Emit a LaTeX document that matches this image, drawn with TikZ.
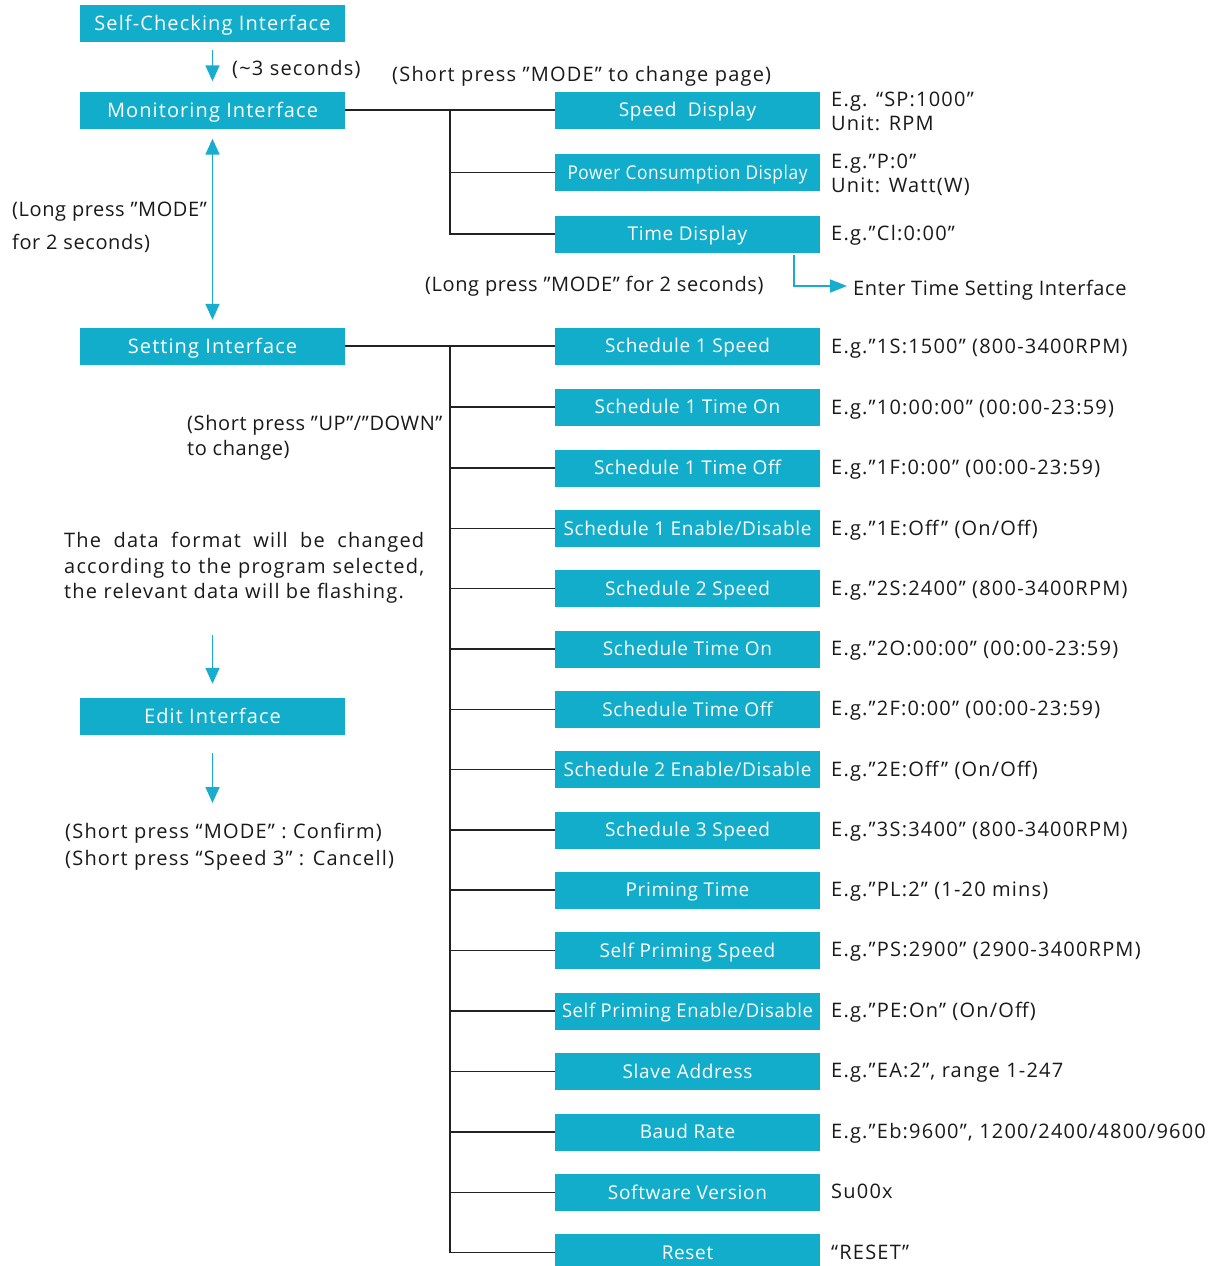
\documentclass[tikz,border=0pt]{standalone}
\usepackage{fontspec}
\usepackage{graphicx}
\usetikzlibrary{arrows.meta}
\newfontfamily\lboxfam[LetterSpace=5.5]{Open Sans}
\newfontfamily\rboxfam[LetterSpace=3.5]{Open Sans}
\newfontfamily\labfam[LetterSpace=6]{Open Sans}
\newfontfamily\labnfam[LetterSpace=3]{Open Sans}
\newcommand{\lboxfont}{\lboxfam\fontsize{20}{24}\selectfont}
\newcommand{\rboxfont}{\rboxfam\fontsize{19}{23}\selectfont}
\newcommand{\labfont}{\labfam\fontsize{20}{25}\selectfont}
\newcommand{\labnfont}{\labnfam\fontsize{20}{25}\selectfont}
\newcommand{\fitw}[2]{\resizebox{#1}{\height}{#2}}
\definecolor{boxc}{HTML}{12ADCB}
\definecolor{arrc}{HTML}{18ADCE}
\definecolor{linec}{HTML}{222222}
\definecolor{txt}{HTML}{1A1A1A}
\tikzset{
  lbox/.style={rectangle, fill=boxc, minimum width=265pt, minimum height=37pt, inner sep=0pt, text=white, font=\lboxfont, text height=14.3pt, text depth=0pt},
  rbox/.style={rectangle, fill=boxc, minimum width=265pt, minimum height=37pt, inner sep=0pt, text=white, font=\rboxfont, text height=13.6pt, text depth=0pt},
  lab/.style={anchor=base west, inner sep=0pt, font=\labfont, text=txt},
  labn/.style={lab, font=\labnfont},
  conn/.style={line width=1.8pt, draw=linec},
  carrow/.style={line width=1.7pt, draw=arrc, -{Triangle[width=14pt,length=16pt]}},
  cdarrow/.style={line width=1.7pt, draw=arrc, {Triangle[width=14pt,length=16pt]}-{Triangle[width=14pt,length=16pt]}},
  csarrow/.style={line width=1.7pt, draw=arrc, -{Triangle[width=13pt,length=17pt]}},
}
\begin{document}
\begin{tikzpicture}[x={(1pt,0pt)}, y={(0pt,-1pt)}]
\useasboundingbox (0,0) rectangle (1217,1266);
\fill[white] (0,0) rectangle (1217,1266);

% left column boxes
\node[lbox] (sc) at (212.5,23.5) {Self-Checking Interface};
\node[lbox] (mon) at (212.5,110) {Monitoring Interface};
\node[lbox] (set) at (212.5,346) {Setting Interface};
\node[lbox] (edit) at (212.5,716.5) {Edit Interface};

% display boxes
\node[rbox] (r1) at (687.5,110) {Speed\ \ Display};
\node[rbox] (r2) at (687.5,172.5) {\fitw{240pt}{Power Consumption Display}};
\node[rbox] (r3) at (687.5,234) {Time Display};

% setting boxes
\node[rbox] (s1) at (687.5,346) {Schedule 1 Speed};
\node[rbox] (s2) at (687.5,407) {Schedule 1 Time On};
\node[rbox] (s3) at (687.5,468) {Schedule 1 Time Off};
\node[rbox] (s4) at (687.5,528.5) {\fitw{248pt}{Schedule 1 Enable/Disable}};
\node[rbox] (s5) at (687.5,588.5) {Schedule 2 Speed};
\node[rbox] (s6) at (687.5,649) {Schedule Time On};
\node[rbox] (s7) at (687.5,709.5) {Schedule Time Off};
\node[rbox] (s8) at (687.5,769.5) {\fitw{248pt}{Schedule 2 Enable/Disable}};
\node[rbox] (s9) at (687.5,830) {Schedule 3 Speed};
\node[rbox] (s10) at (687.5,890) {Priming Time};
\node[rbox] (s11) at (687.5,950.5) {Self Priming Speed};
\node[rbox] (s12) at (687.5,1011) {\fitw{251pt}{Self Priming Enable/Disable}};
\node[rbox] (s13) at (687.5,1071.5) {Slave Address};
\node[rbox] (s14) at (687.5,1132) {Baud Rate};
\node[rbox] (s15) at (687.5,1192.5) {Software Version};
\node[rbox] (s16) at (687.5,1252.5) {Reset};

% tree connectors
\coordinate (t1) at (450,110);
\draw[conn] (mon.east) -- (r1.west);
\draw[conn] (t1) |- (r2.west);
\draw[conn] (t1) |- (r3.west);
\coordinate (t2) at (450,346);
\draw[conn] (set.east) -- (s1.west);
\foreach \n in {2,...,16} { \draw[conn] (t2) |- (s\n.west); }

% cyan arrows
\draw[carrow, shorten <=8pt, shorten >=10pt] (sc.south) -- (mon.north);
\draw[cdarrow, shorten <=10pt, shorten >=7.5pt] (mon.south) -- (set.north);
\coordinate (e0) at (212.5,635);
\draw[carrow, shorten >=14pt] (e0) -- (edit.north);
\coordinate (e1) at (212.5,803);
\draw[carrow, shorten <=18pt] (edit.south) -- (e1);
\coordinate (ea) at (847,286);
\draw[csarrow, shorten <=2pt] ([xshift=-26pt]r3.south east) |- (ea);

% labels
\node[lab] (l1) at (232,75) {(\textasciitilde3 seconds)};
\node[lab] (l2) at (392,81) {(Short press ”MODE” to change page)};
\node[labn] (l3) at (12,216) {(Long press ”MODE”};
\node[labn] (l4) at (12,249) {for 2 seconds)};
\node[labn] (l5) at (425,291) {(Long press ”MODE” for 2 seconds)};
\node[labn] (l6) at (853,295) {Enter Time Setting Interface};
\node[labn] (l7) at (187,430) {(Short press ”UP”/”DOWN”};
\node[labn] (l8) at (187,455) {to change)};
\node[lab] (l9) at (64,547) {\makebox[360pt][s]{The data format will be changed}};
\node[lab] (l10) at (64,573) {\makebox[360pt][s]{according to the program selected,}};
\node[lab] (l11) at (64,598) {the relevant data will be flashing.};
\node[lab] (l12) at (65,838) {(Short press “MODE” : Confirm)};
\node[lab] (l13) at (65,865) {(Short press “Speed 3” : Cancell)};

% right descriptions
\node[lab] (d1) at (831,106) {E.g. “SP:1000”};
\node[lab] (d1b) at (831,130) {Unit: RPM};
\node[lab] (d2) at (831,168) {E.g.”P:0”};
\node[lab] (d2b) at (831,192) {Unit: Watt(W)};
\node[lab] (d3) at (831,240) {E.g.”Cl:0:00”};
\node[lab] (q1) at (831,353) {E.g.”1S:1500” (800-3400RPM)};
\node[lab] (q2) at (831,414) {E.g.”10:00:00” (00:00-23:59)};
\node[lab] (q3) at (831,474) {E.g.”1F:0:00” (00:00-23:59)};
\node[lab] (q4) at (831,535) {E.g.”1E:Off” (On/Off)};
\node[lab] (q5) at (831,595) {E.g.”2S:2400” (800-3400RPM)};
\node[lab] (q6) at (831,655) {E.g.”2O:00:00” (00:00-23:59)};
\node[lab] (q7) at (831,715) {E.g.”2F:0:00” (00:00-23:59)};
\node[lab] (q8) at (831,776) {E.g.”2E:Off” (On/Off)};
\node[lab] (q9) at (831,836) {E.g.”3S:3400” (800-3400RPM)};
\node[lab] (q10) at (831,896) {E.g.”PL:2” (1-20 mins)};
\node[lab] (q11) at (831,956) {E.g.”PS:2900” (2900-3400RPM)};
\node[lab] (q12) at (831,1017) {E.g.”PE:On” (On/Off)};
\node[lab] (q13) at (831,1077) {E.g.”EA:2”, range 1-247};
\node[lab] (q14) at (831,1138) {E.g.”Eb:9600”, 1200/2400/4800/9600};
\node[lab] (q15) at (831,1198) {Su00x};
\node[lab] (q16) at (831,1259) {“RESET”};
\end{tikzpicture}
\end{document}
